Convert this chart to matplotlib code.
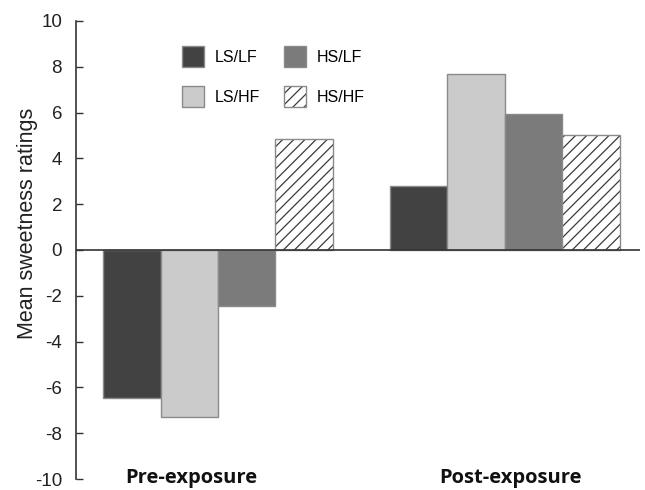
import matplotlib
matplotlib.use("Agg")
import matplotlib.pyplot as plt
from matplotlib.legend_handler import HandlerTuple
import numpy as np

groups = ["Pre-exposure", "Post-exposure"]
series = ["LS/LF", "LS/HF", "HS/LF", "HS/HF"]
values = {
    "LS/LF": [-6.45, 2.8],
    "LS/HF": [-7.3, 7.7],
    "HS/LF": [-2.45, 5.95],
    "HS/HF": [4.85, 5.0],
}
yticks = [-10, -8, -6, -4, -2, 0, 2, 4, 6, 8, 10]

colors = {"LS/LF": "#424242", "LS/HF": "#cbcbcb", "HS/LF": "#7b7b7b", "HS/HF": "white"}
hatches = {"LS/LF": None, "LS/HF": None, "HS/LF": None, "HS/HF": "///"}

plt.rcParams['font.family'] = ['Liberation Sans', 'DejaVu Sans']
plt.rcParams['hatch.linewidth'] = 0.9
plt.rcParams['axes.unicode_minus'] = False

fig = plt.figure(figsize=(6.45, 4.9), dpi=100)
ax = fig.add_axes([76/645, 11/490, 564/645, 458/490])

centers = np.array([2.47, 7.46])
offsets = [-1.5, -0.5, 0.5, 1.5]
handles = []
for s, off in zip(series, offsets):
    if hatches[s]:
        b1 = ax.bar(centers + off, values[s], width=1.0, color=colors[s],
                    edgecolor="#3a3a3a", hatch=hatches[s], linewidth=0)
        b2 = ax.bar(centers + off, values[s], width=1.0, color="none",
                    edgecolor="#8a8a8a", linewidth=1.0)
        handles.append((b1, b2))
    else:
        b = ax.bar(centers + off, values[s], width=1.0, color=colors[s],
                   edgecolor="#8a8a8a", linewidth=1.0)
        handles.append(b)

ax.axhline(0, color="#333333", lw=1.2, zorder=3)
ax.set_xlim(0, 9.81)
ax.set_ylim(-10, 10)
ax.set_yticks(yticks)
ax.set_xticks([])
for sp in ["top", "right", "bottom"]:
    ax.spines[sp].set_visible(False)
ax.spines["left"].set_color("#333333")
ax.spines["left"].set_linewidth(1.2)
ax.tick_params(axis="y", direction="in", length=5, width=1.0, color="#333333",
               labelsize=13.5, pad=10, labelcolor="#222222")

ax.set_ylabel("Mean sweetness ratings", fontsize=15.5, color="#222222")
ax.yaxis.set_label_coords(-0.068, 0.559)

for c, g in zip([2.0, 7.56], groups):
    ax.text(c, -10.17, g, ha="center", va="baseline", fontsize=14.5,
            fontweight="bold", family=["Open Sans", "DejaVu Sans"], color="#111111")

leg = ax.legend(handles, series, ncol=2, frameon=False, fontsize=11.5,
                handlelength=1.35, handleheight=1.65, handletextpad=0.7,
                columnspacing=1.5, labelspacing=1.2, borderpad=0,
                handler_map={tuple: HandlerTuple(ndivide=1, pad=0)},
                loc="upper left", bbox_to_anchor=(174/645, 1 - 38/490),
                bbox_transform=fig.transFigure)

fig.savefig("out.png", dpi=100)
